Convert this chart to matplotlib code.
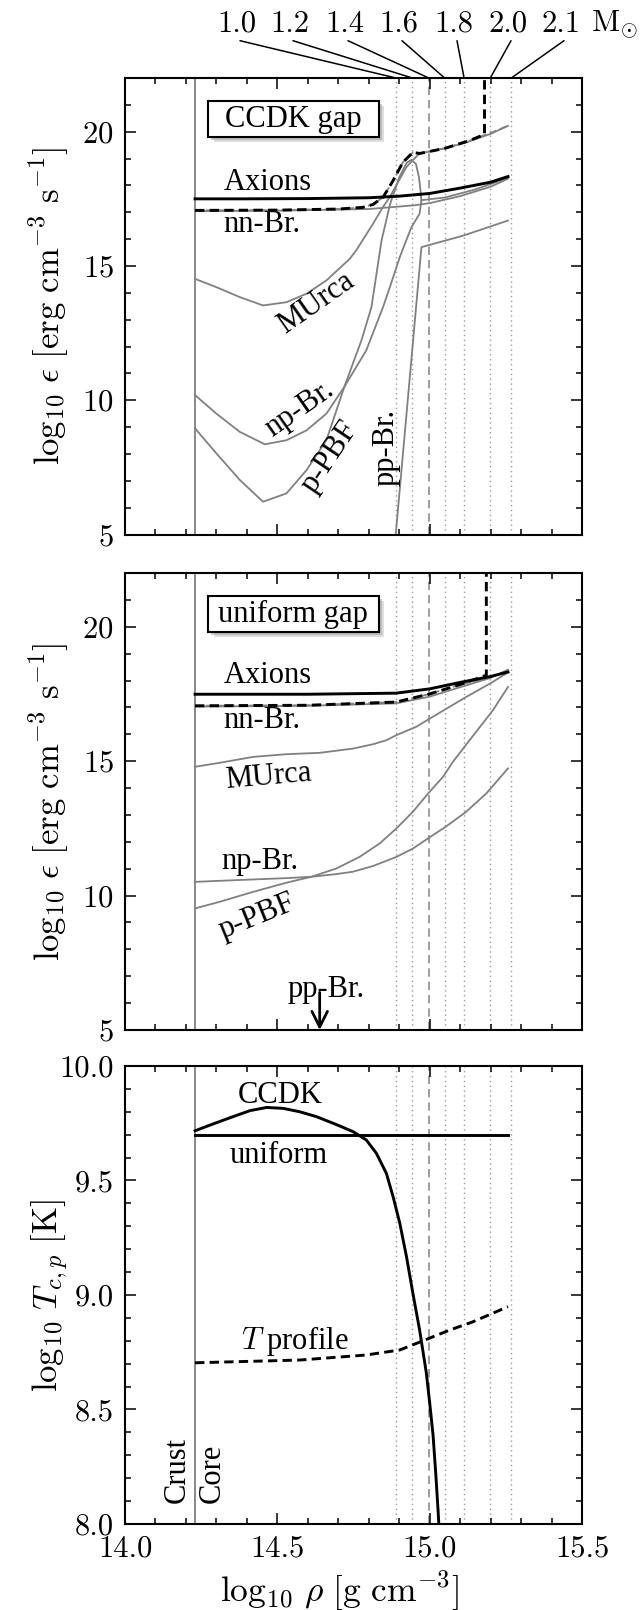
import numpy as np
import matplotlib
matplotlib.use('Agg')
import matplotlib.pyplot as plt
from matplotlib.patches import Rectangle
from matplotlib.ticker import MultipleLocator, FormatStrFormatter

plt.rcParams['font.family'] = 'serif'
plt.rcParams['font.serif'] = ['cmr10']
plt.rcParams['mathtext.fontset'] = 'cm'
plt.rcParams['axes.formatter.use_mathtext'] = True
plt.rcParams['axes.unicode_minus'] = False

### crust-core boundary and central densities of the stars
core_rho = 14.23
mass_labels = ['1.0', '1.2', '1.4', '1.6', '1.8', '2.0', '2.1']
mass_rho = [14.889, 14.943, 14.997, 15.049, 15.113, 15.199, 15.268]

### CCDK gap emissivities (log10 eps)
ax_c_rho = [14.23, 14.4, 14.6, 14.8, 14.9, 15.0, 15.1, 15.2, 15.257]
ax_c_val = [17.50, 17.50, 17.51, 17.54, 17.60, 17.70, 17.90, 18.12, 18.33]
nn_c_rho = [14.23, 14.5, 14.8, 14.95, 15.0, 15.1, 15.2, 15.257]
nn_c_val = [17.04, 17.06, 17.12, 17.26, 17.34, 17.60, 17.95, 18.25]
tot_c_rho = [14.23, 14.5, 14.7, 14.78, 14.814, 14.847, 14.88, 14.912, 14.945,
             14.967, 15.05, 15.131, 15.18, 15.18]
tot_c_val = [17.07, 17.08, 17.12, 17.18, 17.29, 17.56, 18.18, 18.86, 19.23,
             19.19, 19.38, 19.67, 19.90, 23.0]
totg_c_rho = [14.23, 14.5, 14.7, 14.78, 14.814, 14.847, 14.88, 14.912, 14.945,
              14.967, 15.05, 15.131, 15.2, 15.257]
totg_c_val = [17.07, 17.08, 17.12, 17.18, 17.29, 17.56, 18.18, 18.86, 19.23,
              19.19, 19.38, 19.67, 19.95, 20.22]
mu_c_rho = [14.23, 14.30, 14.377, 14.453, 14.53, 14.596, 14.661, 14.738, 14.76,
            14.814, 14.847, 14.869, 14.9, 14.923, 14.945, 14.967, 15.05, 15.12,
            15.2, 15.257]
mu_c_val = [14.52, 14.21, 13.84, 13.53, 13.65, 13.97, 14.46, 15.27, 15.60,
            16.57, 17.20, 17.56, 18.20, 18.67, 18.95, 19.19, 19.38, 19.60,
            19.92, 20.22]
np_c_rho = [14.23, 14.30, 14.377, 14.459, 14.53, 14.596, 14.661, 14.72, 14.792,
            14.847, 14.869, 14.902, 14.923, 14.94, 14.967, 14.973, 15.05, 15.15,
            15.257]
np_c_val = [10.19, 9.50, 8.82, 8.36, 8.51, 8.88, 9.50, 10.50, 11.86,
            13.47, 14.20, 15.33, 15.95, 16.44, 16.95, 17.45, 17.55, 17.85,
            18.28]
pbf_c_rho = [14.23, 14.30, 14.377, 14.453, 14.53, 14.596, 14.661, 14.72, 14.776,
             14.809, 14.842, 14.87, 14.9, 14.925, 14.94, 14.955, 14.965, 14.97,
             14.973]
pbf_c_val = [8.95, 8.02, 7.03, 6.22, 6.53, 7.40, 8.51, 10.50, 12.23,
             13.47, 15.95, 17.30, 18.30, 18.85, 18.95, 18.80, 18.30, 17.80,
             17.40]
pp_c_rho = [14.887, 14.973, 15.11, 15.257]
pp_c_val = [4.8, 15.70, 16.13, 16.69]

### uniform gap emissivities
ax_u_rho = [14.23, 14.6, 14.89, 15.0, 15.1, 15.2, 15.257]
ax_u_val = [17.49, 17.49, 17.53, 17.69, 17.93, 18.15, 18.32]
nn_u_rho = [14.23, 14.6, 14.89, 15.0, 15.1, 15.2, 15.257]
nn_u_val = [17.03, 17.06, 17.15, 17.40, 17.75, 18.10, 18.40]
tot_u_rho = [14.23, 14.6, 14.89, 15.0, 15.1, 15.15, 15.186, 15.186]
tot_u_val = [17.06, 17.08, 17.20, 17.50, 17.85, 18.05, 18.20, 23.0]
totg_u_rho = [14.23, 14.6, 14.89, 15.0, 15.1, 15.2, 15.257]
totg_u_val = [17.06, 17.08, 17.20, 17.50, 17.85, 18.12, 18.35]
mu_u_rho = [14.229, 14.311, 14.421, 14.53, 14.639, 14.749, 14.814, 14.858, 14.891,
            14.956, 15.01, 15.12, 15.2, 15.257]
mu_u_val = [14.79, 14.94, 15.16, 15.26, 15.31, 15.47, 15.63, 15.78, 15.97,
            16.28, 16.65, 17.39, 17.90, 18.30]
np_u_rho = [14.229, 14.311, 14.421, 14.53, 14.612, 14.694, 14.749, 14.814, 14.891,
            14.945, 14.995, 15.055, 15.12, 15.186, 15.257]
np_u_val = [10.51, 10.55, 10.60, 10.65, 10.70, 10.80, 10.89, 11.10, 11.44,
            11.75, 12.13, 12.58, 13.12, 13.80, 14.73]
pbf_u_rho = [14.229, 14.311, 14.421, 14.53, 14.612, 14.694, 14.77, 14.836, 14.891,
             14.945, 14.995, 15.044, 15.076, 15.131, 15.208, 15.257]
pbf_u_val = [9.52, 9.77, 10.14, 10.48, 10.70, 11.01, 11.44, 11.94, 12.50,
             13.12, 13.80, 14.42, 14.97, 15.78, 16.90, 17.76]

### critical temperature of protons and temperature profile (log10 T)
tc_c_rho = [14.23, 14.279, 14.355, 14.41, 14.465, 14.519, 14.574, 14.628, 14.683,
            14.705, 14.749, 14.792, 14.825, 14.858, 14.88, 14.902, 14.924, 14.945,
            14.967, 14.989, 15.0, 15.011, 15.02, 15.028, 15.032]
tc_c_val = [9.717, 9.742, 9.779, 9.805, 9.819, 9.815, 9.80, 9.779, 9.75,
            9.738, 9.713, 9.677, 9.619, 9.531, 9.429, 9.313, 9.167, 9.007,
            8.847, 8.66, 8.53, 8.39, 8.22, 8.05, 7.95]
tc_u_rho = [14.23, 15.257]
tc_u_val = [9.70, 9.70]
tp_rho = [14.23, 14.574, 14.792, 14.902, 14.978, 15.066, 15.142, 15.257]
tp_val = [8.704, 8.716, 8.738, 8.76, 8.80, 8.847, 8.883, 8.949]

W, H = 642., 1610.
fig = plt.figure(figsize=(6.42, 16.10), dpi=100)
ax1 = fig.add_axes([125/W, 1-534.5/H, 457/W, 456.5/H])
ax2 = fig.add_axes([125/W, 1-1030/H, 457/W, 457/H])
ax3 = fig.add_axes([125/W, 1-1524/H, 457/W, 458/H])

GRAY = '0.5'
ann = dict(family='Liberation Serif', fontsize=22)


def style(ax):
    ax.set_xlim(14.0, 15.5)
    ax.xaxis.set_major_locator(MultipleLocator(0.5))
    ax.xaxis.set_minor_locator(MultipleLocator(0.1))
    ax.tick_params(which='both', direction='in', top=True, right=True,
                   labelsize=22, pad=8, width=1.1)
    ax.tick_params(which='major', length=8)
    ax.tick_params(which='minor', length=4.5)
    for s in ax.spines.values():
        s.set_linewidth(1.5)
    ax.axvline(core_rho, color=GRAY, lw=1.3, zorder=1)
    for lab, r in zip(mass_labels, mass_rho):
        if lab == '1.4':
            ax.axvline(r, color='0.55', lw=1.2, ls=(0, (5, 3)), zorder=1)
        else:
            ax.axvline(r, color='0.6', lw=1.0, ls=(0, (1, 2.5)), zorder=1)


def gap_box(ax, text):
    x0, y0, w, h = 0.182, 0.870, 0.373, 0.079
    ax.add_patch(Rectangle((x0+0.012, y0-0.010), w, h, transform=ax.transAxes,
                           fc='0.75', ec='none', alpha=0.5, zorder=4))
    ax.add_patch(Rectangle((x0+0.007, y0-0.006), w, h, transform=ax.transAxes,
                           fc='0.6', ec='none', alpha=0.5, zorder=4))
    ax.add_patch(Rectangle((x0, y0), w, h, transform=ax.transAxes,
                           fc='white', ec='black', lw=1.5, zorder=5))
    ax.text(x0+w/2, y0+h/2, text, transform=ax.transAxes, ha='center',
            va='center', zorder=6, **ann)


for ax in (ax1, ax2, ax3):
    style(ax)

### top panel: CCDK gap
ax1.plot(mu_c_rho, mu_c_val, color=GRAY, lw=1.3)
ax1.plot(np_c_rho, np_c_val, color=GRAY, lw=1.3)
ax1.plot(pbf_c_rho, pbf_c_val, color=GRAY, lw=1.3)
ax1.plot(pp_c_rho, pp_c_val, color=GRAY, lw=1.3)
ax1.plot(nn_c_rho, nn_c_val, color=GRAY, lw=1.3)
ax1.plot(totg_c_rho, totg_c_val, color=GRAY, lw=1.3, ls=(0, (4, 2)))
ax1.plot(ax_c_rho, ax_c_val, color='black', lw=2.1)
ax1.plot(tot_c_rho, tot_c_val, color='black', lw=2.1, ls=(0, (3.2, 1.8)))
ax1.set_ylim(5, 22)
ax1.yaxis.set_major_locator(MultipleLocator(5))
ax1.yaxis.set_minor_locator(MultipleLocator(1))
ax1.tick_params(labelbottom=False)
gap_box(ax1, 'CCDK gap')
ax1.text(14.47, 18.12, 'Axions', ha='center', va='center', **ann)
ax1.text(14.448, 16.54, 'nn-Br.', ha='center', va='center', **ann)
ax1.text(14.628, 13.6, 'MUrca', ha='center', va='center', rotation=35, **ann)
ax1.text(14.574, 9.69, 'np-Br.', ha='center', va='center', rotation=35, **ann)
ax1.text(14.672, 7.9, 'p-PBF', ha='center', va='center', rotation=56, **ann)
ax1.text(14.856, 8.26, 'pp-Br.', ha='center', va='center', rotation=90, **ann)

### middle panel: uniform gap
ax2.plot(mu_u_rho, mu_u_val, color=GRAY, lw=1.3)
ax2.plot(np_u_rho, np_u_val, color=GRAY, lw=1.3)
ax2.plot(pbf_u_rho, pbf_u_val, color=GRAY, lw=1.3)
ax2.plot(nn_u_rho, nn_u_val, color=GRAY, lw=1.3)
ax2.plot(totg_u_rho, totg_u_val, color=GRAY, lw=1.3, ls=(0, (4, 2)))
ax2.plot(ax_u_rho, ax_u_val, color='black', lw=2.1)
ax2.plot(tot_u_rho, tot_u_val, color='black', lw=2.1, ls=(0, (3.2, 1.8)))
ax2.set_ylim(5, 22)
ax2.yaxis.set_major_locator(MultipleLocator(5))
ax2.yaxis.set_minor_locator(MultipleLocator(1))
ax2.tick_params(labelbottom=False)
gap_box(ax2, 'uniform gap')
ax2.text(14.47, 18.2, 'Axions', ha='center', va='center', **ann)
ax2.text(14.448, 16.52, 'nn-Br.', ha='center', va='center', **ann)
ax2.text(14.47, 14.42, 'MUrca', ha='center', va='center', rotation=5, **ann)
ax2.text(14.443, 11.26, 'np-Br.', ha='center', va='center', **ann)
ax2.text(14.432, 9.21, 'p-PBF', ha='center', va='center', rotation=22, **ann)
ax2.text(14.661, 6.49, 'pp-Br.', ha='center', va='center', **ann)
ax2.annotate('', xy=(14.639, 5.0), xytext=(14.639, 6.4),
             arrowprops=dict(arrowstyle='->', lw=2.0, color='black',
                             mutation_scale=28, shrinkA=0, shrinkB=0))

### bottom panel: critical temperatures
ax3.plot(tc_c_rho, tc_c_val, color='black', lw=2.1)
ax3.plot(tc_u_rho, tc_u_val, color='black', lw=2.1)
ax3.plot(tp_rho, tp_val, color='black', lw=2.1, ls=(0, (3.2, 1.8)))
ax3.set_ylim(8.0, 10.0)
ax3.yaxis.set_major_locator(MultipleLocator(0.5))
ax3.yaxis.set_minor_locator(MultipleLocator(0.1))
ax3.xaxis.set_major_formatter(FormatStrFormatter('%.1f'))
ax3.yaxis.set_major_formatter(FormatStrFormatter('%.1f'))
ax3.text(14.508, 9.873, 'CCDK', ha='center', va='center', **ann)
ax3.text(14.503, 9.607, 'uniform', ha='center', va='center', **ann)
ax3.text(14.557, 8.80, r'$T$ profile', ha='center', va='center', **ann)
ax3.text(14.172, 8.09, 'Crust', ha='center', va='bottom', rotation=90, **ann)
ax3.text(14.287, 8.09, 'Core', ha='center', va='bottom', rotation=90, **ann)

### axis labels
lab_eps = r'$\log_{10}\,\epsilon\ [\mathrm{erg\ cm^{-3}\ s^{-1}}]$'
ax1.set_ylabel(lab_eps, fontsize=25)
ax2.set_ylabel(lab_eps, fontsize=25)
ax3.set_ylabel(r'$\log_{10}\,T_{c,p}\ [\mathrm{K}]$', fontsize=25)
for ax in (ax1, ax2, ax3):
    ax.yaxis.set_label_coords(-0.118, 0.5)
ax3.set_xlabel(r'$\log_{10}\,\rho\ [\mathrm{g\ cm^{-3}}]$', fontsize=25.5)
ax3.xaxis.set_label_coords(0.47, -0.097)

### stellar masses on top
lab_x = [237, 290, 345, 399, 454, 508, 561]
for lab, r, lx in zip(mass_labels, mass_rho, lab_x):
    fig.text(lx/W, 1-24/H, lab, ha='center', va='center', fontsize=22)
    ax1.annotate('', xy=(r, 1.0), xycoords=('data', 'axes fraction'),
                 xytext=((lx+3)/W, 1-40.7/H), textcoords='figure fraction',
                 arrowprops=dict(arrowstyle='-', lw=1.1, color='black',
                                 shrinkA=0, shrinkB=0),
                 annotation_clip=False)
fig.text(614/W, 1-24/H, r'$\mathrm{M}_{\odot}$', ha='center', va='center',
         fontsize=22)

fig.savefig('out.png', dpi=100)
